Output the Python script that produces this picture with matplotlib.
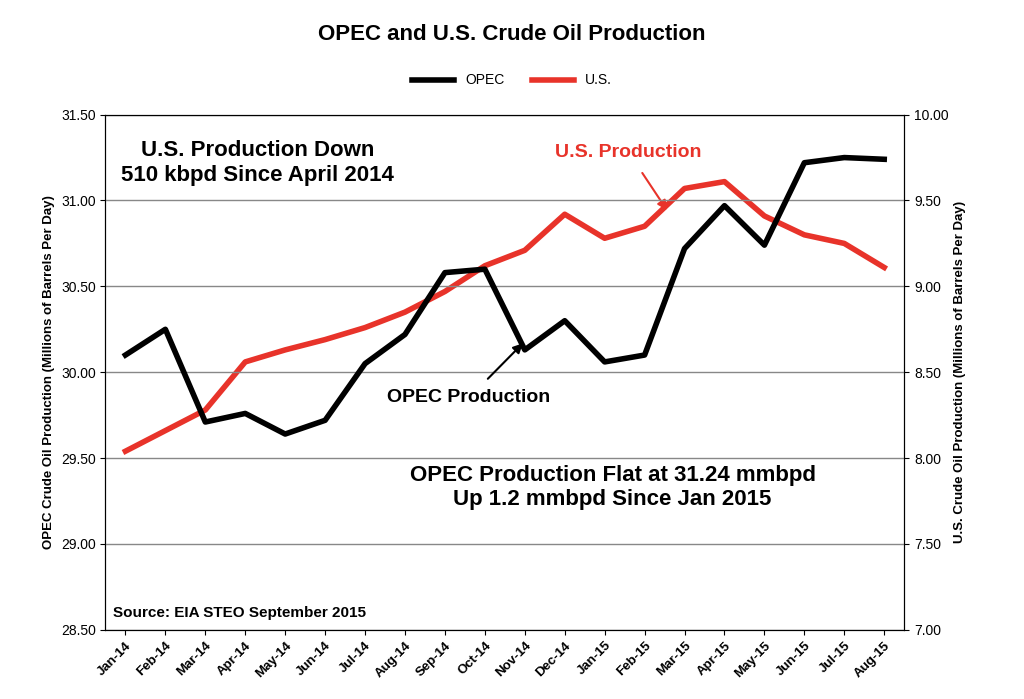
import matplotlib
matplotlib.use("Agg")
import matplotlib.pyplot as plt

plt.rcParams['font.family'] = ['Liberation Sans', 'DejaVu Sans']

months = ["Jan-14", "Feb-14", "Mar-14", "Apr-14", "May-14", "Jun-14", "Jul-14", "Aug-14",
          "Sep-14", "Oct-14", "Nov-14", "Dec-14", "Jan-15", "Feb-15", "Mar-15", "Apr-15",
          "May-15", "Jun-15", "Jul-15", "Aug-15"]
opec = [30.10, 30.25, 29.71, 29.76, 29.64, 29.72, 30.05, 30.22, 30.58, 30.60,
        30.13, 30.30, 30.06, 30.10, 30.72, 30.97, 30.74, 31.22, 31.25, 31.24]
us = [8.04, 8.16, 8.28, 8.56, 8.63, 8.69, 8.76, 8.85, 8.97, 9.12,
      9.21, 9.42, 9.28, 9.35, 9.57, 9.61, 9.41, 9.30, 9.25, 9.11]

fig = plt.figure(figsize=(10.24, 6.99), dpi=100)
ax1 = fig.add_axes([0.103, 0.099, 0.78, 0.737])
ax2 = ax1.twinx()
x = list(range(len(months)))

l1, = ax1.plot(x, opec, color="black", lw=4, label="OPEC", zorder=3)
l2, = ax2.plot(x, us, color="#e8332a", lw=4, label="U.S.")
ax1.set_zorder(ax2.get_zorder() + 1)
ax1.patch.set_visible(False)

ax1.set_ylim(28.5, 31.5)
ax1.set_yticks([28.5, 29.0, 29.5, 30.0, 30.5, 31.0, 31.5])
ax1.set_yticklabels([f"{v:.2f}" for v in ax1.get_yticks()], fontsize=10)
ax2.set_ylim(7.0, 10.0)
ax2.set_yticks([7.0, 7.5, 8.0, 8.5, 9.0, 9.5, 10.0])
ax2.set_yticklabels([f"{v:.2f}" for v in ax2.get_yticks()], fontsize=10)
ax1.set_xlim(-0.5, len(months) - 0.5)
ax1.set_xticks(x)
ax1.set_xticklabels(months, rotation=45, ha="right", rotation_mode="anchor", fontsize=9.5, fontweight="bold")
ax1.grid(axis="y", color="#888888", lw=1)
ax1.set_ylabel("OPEC Crude Oil Production (Millions of Barrels Per Day)", fontsize=9.5, fontweight="bold")
ax2.set_ylabel("U.S. Crude Oil Production (Millions of Barrels Per Day)", fontsize=9.5, fontweight="bold")

fig.suptitle("OPEC and U.S. Crude Oil Production", y=0.965, fontsize=16, fontweight="bold")
fig.legend([l1, l2], ["OPEC", "U.S."], loc="center", bbox_to_anchor=(0.5, 0.885), ncol=2,
           frameon=False, fontsize=10, handlelength=3)

ax1.text(0.19, 0.95, "U.S. Production Down\n510 kbpd Since April 2014", transform=ax1.transAxes,
         ha="center", va="top", fontsize=16, fontweight="bold")
ax1.text(0.635, 0.32, "OPEC Production Flat at 31.24 mmbpd\nUp 1.2 mmbpd Since Jan 2015", transform=ax1.transAxes,
         ha="center", va="top", fontsize=16, fontweight="bold")
ax1.text(0.01, 0.025, "Source: EIA STEO September 2015", transform=ax1.transAxes,
         fontsize=11, fontweight="bold")
ax1.annotate("OPEC Production", xy=(10.0, 30.18), xytext=(8.6, 29.85), ha="center", va="center",
             fontsize=14, fontweight="bold",
             arrowprops=dict(arrowstyle="-|>", color="black", lw=1.5, shrinkA=8))
ax2.annotate("U.S. Production", xy=(13.6, 9.43), xytext=(12.6, 9.78), ha="center", va="center",
             fontsize=14, fontweight="bold", color="#e8332a",
             arrowprops=dict(arrowstyle="-|>", color="#e8332a", lw=1.5, shrinkA=8))

fig.savefig("out.png", dpi=100)
